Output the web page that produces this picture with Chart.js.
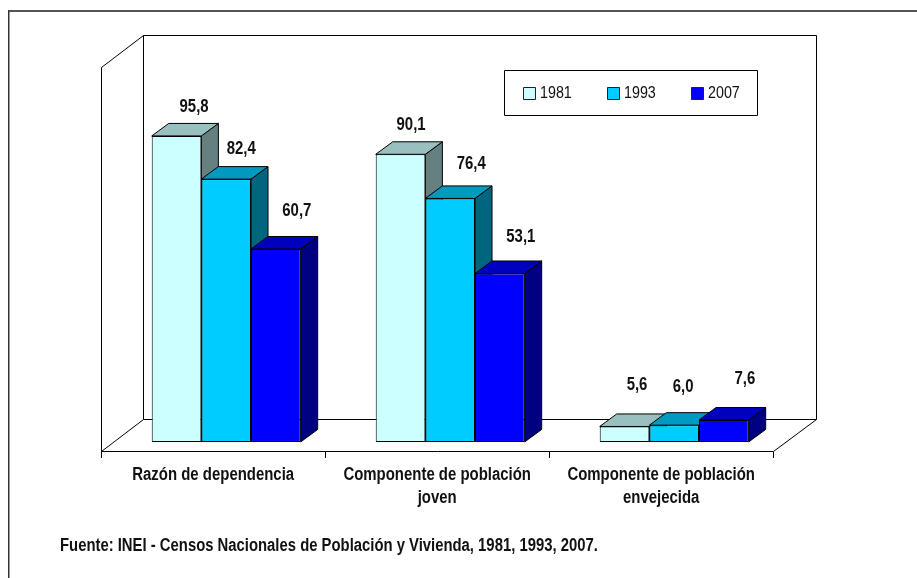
<!DOCTYPE html>
<html><head><meta charset="utf-8">
<style>html,body{margin:0;padding:0;background:#fff}canvas{display:block}</style>
<script src="https://cdn.jsdelivr.net/npm/chart.js@4"></script>
</head><body>
<canvas id="c" width="917" height="578"></canvas>
<script>
const categories = [["Razón de dependencia"], ["Componente de población", "joven"], ["Componente de población", "envejecida"]];
const years = ["1981", "1993", "2007"];
const values1981 = [95.8, 90.1, 5.6];
const values1993 = [82.4, 76.4, 6.0];
const values2007 = [60.7, 53.1, 7.6];
const source = "Fuente: INEI - Censos Nacionales de Población y Vivienda, 1981, 1993, 2007.";

const FONT = '"Liberation Sans",Arial,sans-serif';
const NARROW = 0.83;               // the source text is set in a condensed face
const shade = {
  "1981": {front:"#CCFFFF", top:"#99BFBF", side:"#668080"},
  "1993": {front:"#00CCFF", top:"#0099BF", side:"#006680"},
  "2007": {front:"#0000FF", top:"#0000BF", side:"#000080"}
};
const fmt = v => v.toFixed(1).replace(".", ",");
const DX = 17, DY = 12.5;          // bar depth
const labelNudge = [               // hand placed labels in the source
  [[17.5,-29],[10.5,-29],[12.5,-41]],
  [[15,-30],[21,-34],[9,-38]],
  [[21,-38],[21,-36],[21,-41]]
];

function poly(ctx, pts, fill, stroke, lw){
  ctx.beginPath();
  pts.forEach((p,i)=> i?ctx.lineTo(p[0],p[1]):ctx.moveTo(p[0],p[1]));
  ctx.closePath();
  if(fill){ctx.fillStyle=fill;ctx.fill();}
  if(stroke){ctx.strokeStyle=stroke;ctx.lineWidth=lw||1;ctx.stroke();}
}
function narrowText(ctx,s,x,y,k){
  ctx.save();ctx.translate(x,y);ctx.scale(k||NARROW,1);ctx.fillText(s,0,0);ctx.restore();
}

const frame3d = {
  id:"frame3d",
  afterLayout(chart){
    const x=chart.scales.x;
    if(x._narrowed) return;
    x._narrowed=true;
    const draw=x.drawLabels;
    x.drawLabels=function(area){
      const c=this.ctx, ft=c.fillText;
      c.fillText=function(s,px,py){
        c.save();c.translate(px,py);c.scale(NARROW,1);ft.call(c,s,0,0);c.restore();
      };
      draw.call(this,area);
      delete c.fillText;
    };
  },
  beforeDraw(chart){
    const ctx=chart.ctx, x=chart.scales.x;
    ctx.save();
    ctx.fillStyle="#fff";ctx.fillRect(0,0,chart.width,chart.height);
    // page frame: open at right and bottom in the source
    ctx.fillStyle="#555";ctx.fillRect(8,10,909,2);
    ctx.fillStyle="#333";ctx.fillRect(8,10,1,568);
    ctx.fillStyle="#999";ctx.fillRect(9,12,1,566);
    const step=x.getPixelForValue(1)-x.getPixelForValue(0);
    const fl=Math.round(x.getPixelForValue(0)-step/2-13)+0.5;      // front-left
    const fr=fl+step*3;
    const floorY=451.5, backY=419.5, topB=35.5, topF=67.5, ox=42, oxR=43;
    ctx.strokeStyle="#000";ctx.lineWidth=1;
    ctx.beginPath();
    ctx.moveTo(fl,floorY);ctx.lineTo(fl,topF);ctx.lineTo(fl+ox,topB);ctx.lineTo(fr+oxR,topB);ctx.lineTo(fr+oxR,backY);
    ctx.lineTo(fl+ox,backY);ctx.lineTo(fl+ox,topB);
    ctx.moveTo(fl,floorY);ctx.lineTo(fl+ox,backY);
    ctx.moveTo(fr+oxR,backY);ctx.lineTo(fr,floorY);ctx.lineTo(fl,floorY);
    for(let i=0;i<=3;i++){const t=Math.round(fl+step*i-0.5)+0.5;ctx.moveTo(t,floorY);ctx.lineTo(t,458);}
    ctx.stroke();
    ctx.restore();
  },
  beforeDatasetDraw(){ return false; },   // drawn below, left bars first
  afterDatasetsDraw(chart){
    const ctx=chart.ctx;
    ctx.save();
    chart.data.datasets.forEach((ds,di)=>{
      const c=shade[ds.label];
      chart.getDatasetMeta(di).data.forEach(b=>{
        const l=b.x-b.width/2, r=b.x+b.width/2, t=b.y, bt=b.base;
        b.draw(ctx);
        poly(ctx,[[r,t],[r+DX,t-DY],[r+DX,bt-DY],[r,bt]],c.side,"#000");
        poly(ctx,[[l,t],[l+DX,t-DY],[r+DX,t-DY],[r,t]],c.top,"#000");
      });
    });
    ctx.restore();
  },
  afterDraw(chart){
    const ctx=chart.ctx;
    ctx.save();
    ctx.textBaseline="middle";
    ctx.fillStyle="#111";ctx.textAlign="center";ctx.font="bold 18px "+FONT;
    chart.data.datasets.forEach((ds,di)=>{
      chart.getDatasetMeta(di).data.forEach((b,i)=>{
        const n=labelNudge[di][i];
        narrowText(ctx,fmt(ds.data[i]),b.x+n[0],b.y+n[1]);
      });
    });
    poly(ctx,[[504.5,70.5],[757.5,70.5],[757.5,115.5],[504.5,115.5]],"#fff","#000");
    ctx.textAlign="left";ctx.font="17px "+FONT;
    [523.5,607.5,691.5].forEach((lx,i)=>{
      const y=years[i];
      poly(ctx,[[lx,87.5],[lx+12,87.5],[lx+12,99.5],[lx,99.5]],shade[y].front,"#222");
      ctx.fillStyle="#111";
      narrowText(ctx,y,lx+16.5,93,0.84);
    });
    ctx.font="bold 18px "+FONT;
    narrowText(ctx,source,60,546,0.825);
    ctx.restore();
  }
};

const mk=(label,data)=>({label,data,base:0.8,backgroundColor:shade[label].front,borderColor:"#000",borderWidth:1,borderSkipped:false,
  categoryPercentage:0.665,barPercentage:1});

new Chart(document.getElementById("c"),{
  type:"bar",
  data:{labels:categories,datasets:[mk(years[0],values1981),mk(years[1],values1993),mk(years[2],values2007)]},
  plugins:[frame3d],
  options:{
    responsive:false,animation:false,
    layout:{padding:{left:114.2,right:130.8,top:58,bottom:33.5}},
    plugins:{legend:{display:false},tooltip:{enabled:false}},
    scales:{
      y:{display:false,min:0,max:120},
      x:{
        afterFit(s){s.height=100;},
        grid:{display:false,drawTicks:false},border:{display:false},
        ticks:{color:"#111",padding:19,labelOffset:-13,maxRotation:0,autoSkip:false,
          font:{family:FONT,weight:"bold",size:18,lineHeight:1.28}}
      }
    }
  }
});
</script>
</body></html>
